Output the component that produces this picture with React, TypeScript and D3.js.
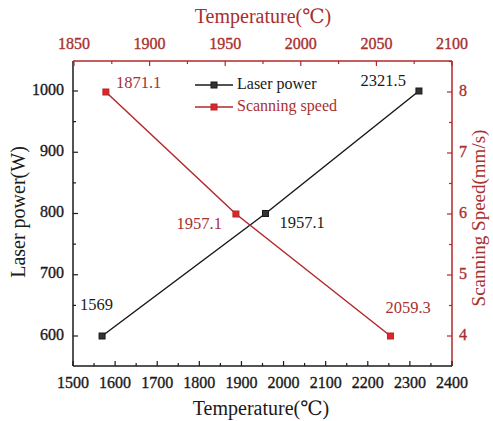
import React from "react";
import * as d3 from "d3";

// Laser power series (bottom temperature axis, left power axis)
const powerTemps = [1569, 1957.1, 2321.5];
const powerValues = [600, 800, 1000];
const powerLabels = ["1569", "1957.1", "2321.5"];

// Scanning speed series (top temperature axis, right speed axis)
const speedTemps = [1871.1, 1957.1, 2059.3];
const speedValues = [8, 6, 4];
const speedLabels = ["1871.1", "1957.1", "2059.3"];

const bottomTicks = [1500, 1600, 1700, 1800, 1900, 2000, 2100, 2200, 2300, 2400];
const topTicks = [1850, 1900, 1950, 2000, 2050, 2100];
const leftTicks = [600, 700, 800, 900, 1000];
const rightTicks = [4, 5, 6, 7, 8];

const seriesNames = ["Laser power", "Scanning speed"];

const RED = "#b3292b";
const RED_TEXT = "#a8302f";
const BLACK = "#1a1a1a";
const FONT = "'Liberation Serif', 'DejaVu Serif', serif";

export default function App() {
  const W = 493, H = 421;
  const L = 73, R = 452, T = 61, B = 366;

  const xBottom = d3.scaleLinear().domain([1500, 2400]).range([L, R]);
  const xTop = d3.scaleLinear().domain([1850, 2100]).range([L + 1, R]);
  const yLeft = d3.scaleLinear().domain([600, 1000]).range([336, 91]);
  const yRight = d3.scaleLinear().domain([4, 8]).range([336, 92]);

  const powerPts: [number, number][] = powerTemps.map((t, i) => [xBottom(t), yLeft(powerValues[i])]);
  const speedPts: [number, number][] = speedTemps.map((t, i) => [xTop(t), yRight(speedValues[i])]);
  const line = d3.line();

  const bottomMinor = d3.range(1550, 2400, 100);
  const topMinor = d3.range(1875, 2100, 50);
  const leftMinor = d3.range(550, 1050, 100).filter((v) => yLeft(v) >= T && yLeft(v) <= B);
  const rightMinor = [3.5, 4.5, 5.5, 6.5, 7.5, 8.5].filter((v) => yRight(v) >= T && yRight(v) <= B);

  const MS = 6;
  const tickStyle = { strokeWidth: 0.35 };

  // label offsets per point
  const powerLabelPos = [
    { dx: -22, dy: -30, anchor: "start" },
    { dx: 14, dy: 11, anchor: "start" },
    { dx: -13, dy: -9, anchor: "end" },
  ];
  const speedLabelPos = [
    { dx: 10, dy: -8, anchor: "start" },
    { dx: -14, dy: 11, anchor: "end" },
    { dx: -5, dy: -27, anchor: "start" },
  ];

  return (
    <svg width={W} height={H} style={{ position: "absolute", left: 0, top: 0, background: "#fff" }}>
      <rect x={0} y={0} width={W} height={H} fill="#fff" />

      {/* series lines */}
      <path d={line(powerPts) || ""} fill="none" stroke={BLACK} strokeWidth={1.5} />
      <path d={line(speedPts) || ""} fill="none" stroke={RED} strokeWidth={1.5} />

      {/* markers */}
      {powerPts.map(([x, y], i) => (
        <rect key={"pm" + i} x={x - MS / 2} y={y - MS / 2} width={MS} height={MS} fill="#333" stroke={BLACK} strokeWidth={1} />
      ))}
      {speedPts.map(([x, y], i) => (
        <rect key={"sm" + i} x={x - MS / 2} y={y - MS / 2} width={MS} height={MS} fill="#e0242a" stroke={RED} strokeWidth={1} />
      ))}

      {/* data labels */}
      {powerPts.map(([x, y], i) => (
        <text key={"pl" + i} x={x + powerLabelPos[i].dx} y={y + powerLabelPos[i].dy} textAnchor={powerLabelPos[i].anchor as any}
          fontFamily={FONT} fontSize={16.5} fill={BLACK} dominantBaseline="middle">{powerLabels[i]}</text>
      ))}
      {speedPts.map(([x, y], i) => (
        <text key={"sl" + i} x={x + speedLabelPos[i].dx} y={y + speedLabelPos[i].dy} textAnchor={speedLabelPos[i].anchor as any}
          fontFamily={FONT} fontSize={16.5} fill={RED_TEXT} dominantBaseline="middle">{speedLabels[i]}</text>
      ))}

      {/* legend */}
      {seriesNames.map((name, i) => {
        const y = 85 + i * 22;
        const c = i === 0 ? BLACK : RED;
        return (
          <g key={"lg" + i}>
            <line x1={195} x2={233} y1={y} y2={y} stroke={c} strokeWidth={1.5} />
            <rect x={214 - MS / 2} y={y - MS / 2} width={MS} height={MS} fill={i === 0 ? "#333" : "#e0242a"} stroke={c} />
            <text x={237} y={y} dominantBaseline="middle" fontFamily={FONT} fontSize={16} fill={i === 0 ? BLACK : RED_TEXT}>{name}</text>
          </g>
        );
      })}

      {/* frame */}
      <line x1={L} x2={R} y1={B} y2={B} stroke={BLACK} strokeWidth={1.5} />
      <line x1={L} x2={L} y1={T} y2={B} stroke={BLACK} strokeWidth={1.5} />
      <line x1={L} x2={R} y1={T} y2={T} stroke={RED} strokeWidth={1.5} />
      <line x1={R} x2={R} y1={T} y2={B} stroke={RED} strokeWidth={1.5} />

      {/* bottom axis */}
      {bottomTicks.map((v) => (
        <g key={"bt" + v}>
          <line x1={xBottom(v)} x2={xBottom(v)} y1={B} y2={B - 5} stroke={BLACK} strokeWidth={1.2} />
          <text x={xBottom(v)} y={388} textAnchor="middle" fontFamily={FONT} fontSize={16} fill={BLACK} stroke={BLACK} {...tickStyle}>{v}</text>
        </g>
      ))}
      {bottomMinor.map((v) => (
        <line key={"bm" + v} x1={xBottom(v)} x2={xBottom(v)} y1={B} y2={B - 3} stroke={BLACK} strokeWidth={1.2} />
      ))}
      <text x={261} y={415} textAnchor="middle" fontFamily={FONT} fontSize={20} fill={BLACK}>Temperature(℃)</text>

      {/* top axis */}
      {topTicks.map((v) => (
        <g key={"tt" + v}>
          <line x1={xTop(v)} x2={xTop(v)} y1={T} y2={T + 5} stroke={RED} strokeWidth={1.2} />
          <text x={xTop(v)} y={49} textAnchor="middle" fontFamily={FONT} fontSize={16} fill={RED_TEXT} stroke={RED_TEXT} {...tickStyle}>{v}</text>
        </g>
      ))}
      {topMinor.map((v) => (
        <line key={"tm" + v} x1={xTop(v)} x2={xTop(v)} y1={T} y2={T + 3} stroke={RED} strokeWidth={1.2} />
      ))}
      <text x={263} y={23} textAnchor="middle" fontFamily={FONT} fontSize={20} fill={RED_TEXT}>Temperature(℃)</text>

      {/* left axis */}
      {leftTicks.map((v) => (
        <g key={"lt" + v}>
          <line x1={L} x2={L + 5} y1={yLeft(v)} y2={yLeft(v)} stroke={BLACK} strokeWidth={1.2} />
          <text x={64} y={yLeft(v)} textAnchor="end" dominantBaseline="middle" fontFamily={FONT} fontSize={16} fill={BLACK} stroke={BLACK} {...tickStyle}>{v}</text>
        </g>
      ))}
      {leftMinor.map((v) => (
        <line key={"lm" + v} x1={L} x2={L + 3} y1={yLeft(v)} y2={yLeft(v)} stroke={BLACK} strokeWidth={1.2} />
      ))}
      <text transform={`translate(25, 212) rotate(-90)`} textAnchor="middle" fontFamily={FONT} fontSize={20} fill={BLACK}>Laser power(W)</text>

      {/* right axis */}
      {rightTicks.map((v) => (
        <g key={"rt" + v}>
          <line x1={R} x2={R - 5} y1={yRight(v)} y2={yRight(v)} stroke={RED} strokeWidth={1.2} />
          <text x={459} y={yRight(v)} textAnchor="start" dominantBaseline="middle" fontFamily={FONT} fontSize={16} fill={RED_TEXT} stroke={RED_TEXT} {...tickStyle}>{v}</text>
        </g>
      ))}
      {rightMinor.map((v) => (
        <line key={"rm" + v} x1={R} x2={R - 3} y1={yRight(v)} y2={yRight(v)} stroke={RED} strokeWidth={1.2} />
      ))}
      <text transform={`translate(481, 218) rotate(-90)`} textAnchor="middle" dominantBaseline="middle" fontFamily={FONT} fontSize={19} fill={RED_TEXT}>Scanning Speed(mm/s)</text>
    </svg>
  );
}
